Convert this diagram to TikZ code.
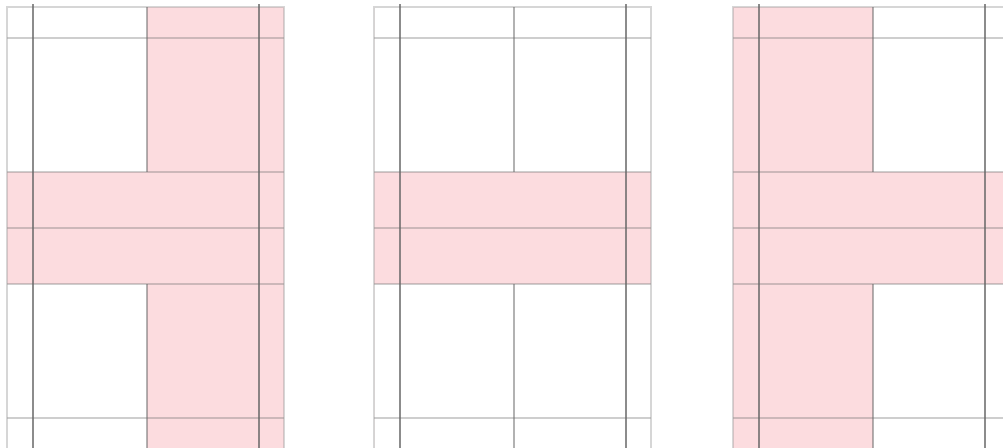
\documentclass[tikz,border=0pt]{standalone}
\usepackage{xcolor}
\usepackage{tikz}
\usetikzlibrary{positioning}

\definecolor{panelpink}{RGB}{252,220,223}
\tikzset{
    cellfill/.style={fill=panelpink},
    gridline/.style={draw=black!55, draw opacity=0.35, line width=1.4pt},
    edgeline/.style={draw=black!40, draw opacity=0.4, line width=0.8pt},
    midline/.style={draw=black!60, draw opacity=0.5, line width=1.1pt},
    postline/.style={draw=black!60, draw opacity=0.75, line width=1pt}
}

\begin{document}
\begin{tikzpicture}[x=0.5pt, y=-0.5pt]
    \useasboundingbox (0,0) rectangle (1003,447);
    \clip (0,0) rectangle (1003,447);
    % three panels: offset / pink column from / to
    \foreach \ox/\pa/\pb in {7/140/277, 374/0/0, 733/0/140} {
        \begin{scope}[shift={(\ox,0)}]
            \fill[cellfill] (\pa,7) rectangle (\pb,452);
            \fill[cellfill] (0,172) rectangle (277,284);
            \foreach \y in {38,172,228,284,418}
                \draw[gridline] (0,\y) -- (277,\y);
            \draw[edgeline] (0,452) -- (0,7) -- (277,7) -- (277,452);
            \draw[midline] (140,7) -- (140,172) (140,284) -- (140,452);
            \draw[postline] (25.5,4) -- (25.5,452) (252,4) -- (252,452);
        \end{scope}
    }
\end{tikzpicture}
\end{document}
